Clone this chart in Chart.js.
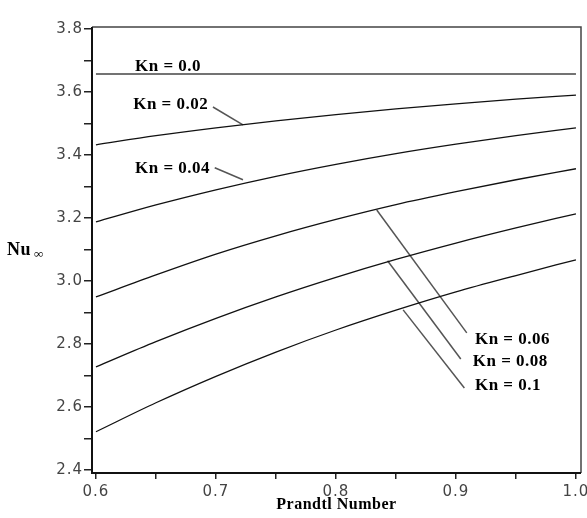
<!DOCTYPE html>
<html>
<head>
<meta charset="utf-8">
<script src="https://cdn.jsdelivr.net/npm/chart.js"></script>
<style>
    html, body { margin: 0; padding: 0; background: #fff; }
    #caixa { width: 587px; height: 518px; }
</style>
</head>
<body>
<div id="caixa"><canvas id="grafico"></canvas></div>
<script>
// eixo x: número de Prandtl
const prandtl = [0.6, 0.65, 0.7, 0.75, 0.8, 0.85, 0.9, 0.95, 1.0];

// Nu infinito para cada Kn
const nuKn000 = [3.657, 3.657, 3.657, 3.657, 3.657, 3.657, 3.657, 3.657, 3.657];
const nuKn002 = [3.432, 3.461, 3.486, 3.508, 3.528, 3.546, 3.562, 3.577, 3.590];
const nuKn004 = [3.187, 3.241, 3.289, 3.332, 3.370, 3.404, 3.434, 3.461, 3.486];
const nuKn006 = [2.949, 3.019, 3.085, 3.143, 3.195, 3.242, 3.283, 3.321, 3.356];
const nuKn008 = [2.727, 2.807, 2.881, 2.949, 3.011, 3.068, 3.120, 3.168, 3.213];
const nuKn010 = [2.521, 2.613, 2.697, 2.774, 2.844, 2.907, 2.965, 3.017, 3.067];

// ticks
const xTicks = [0.6, 0.65, 0.7, 0.75, 0.8, 0.85, 0.9, 0.95, 1.0];
const yTicks = [2.4, 2.5, 2.6, 2.7, 2.8, 2.9, 3.0, 3.1, 3.2, 3.3, 3.4, 3.5, 3.6, 3.7, 3.8];

// linhas de chamada dos rótulos [Pr, Nu]
const chamada002 = [[0.6975, 3.552], [0.7225, 3.495]];
const chamada004 = [[0.699, 3.359], [0.7225, 3.321]];
const chamada006 = [[0.834, 3.225], [0.909, 2.835]];
const chamada008 = [[0.843, 3.064], [0.904, 2.752]];
const chamada010 = [[0.856, 2.908], [0.907, 2.660]];

// rótulos (texto, posição em Pr e Nu)
const rotulos = ['Kn = 0.0', 'Kn = 0.02', 'Kn = 0.04', 'Kn = 0.06', 'Kn = 0.08', 'Kn = 0.1'];
const rotuloPr = [0.6325, 0.631, 0.6325, 0.9158, 0.914, 0.9158];
const rotuloNu = [3.681, 3.559, 3.356, 2.813, 2.743, 2.667];

function serie(valores) {
    return prandtl.map((p, i) => ({ x: p, y: valores[i] }));
}

function pares(lista) {
    return lista.map(p => ({ x: p[0], y: p[1] }));
}

function curva(valores) {
    return {
        data: serie(valores),
        borderColor: '#111',
        borderWidth: 1.3,
        pointRadius: 0,
        cubicInterpolationMode: 'monotone',
        fill: false
    };
}

function chamada(lista) {
    return {
        data: pares(lista),
        borderColor: '#555',
        borderWidth: 1.5,
        pointRadius: 0,
        tension: 0,
        fill: false
    };
}

const serifBold = '"Liberation Serif", "Times New Roman", serif';

// desenha moldura, títulos e rótulos
const extras = {
    id: 'extras',
    beforeDraw(chart) {
        // números dos eixos um pouco espaçados, como no original
        chart.ctx.letterSpacing = '1px';
    },
    beforeDatasetsDraw(chart) {
        const ctx = chart.ctx;
        const a = chart.chartArea;
        ctx.save();
        ctx.strokeStyle = '#444';
        ctx.lineWidth = 1.5;
        ctx.beginPath();
        ctx.moveTo(a.left, a.top);
        ctx.lineTo(a.right, a.top);
        ctx.lineTo(a.right, a.bottom);
        ctx.stroke();
        ctx.strokeStyle = '#111';
        ctx.lineWidth = 2;
        ctx.beginPath();
        ctx.moveTo(a.left, a.top);
        ctx.lineTo(a.left, a.bottom);
        ctx.lineTo(a.right, a.bottom);
        ctx.stroke();
        ctx.restore();
    },
    afterDraw(chart) {
        const ctx = chart.ctx;
        const a = chart.chartArea;
        const sx = chart.scales.x;
        const sy = chart.scales.y;
        ctx.save();
        ctx.fillStyle = '#000';
        ctx.textBaseline = 'middle';
        ctx.letterSpacing = '0.5px';

        ctx.font = 'bold 17px ' + serifBold;
        for (let i = 0; i < rotulos.length; i++) {
            ctx.textAlign = 'left';
            ctx.fillText(rotulos[i], sx.getPixelForValue(rotuloPr[i]), sy.getPixelForValue(rotuloNu[i]));
        }

        // título do eixo x
        ctx.textAlign = 'center';
        ctx.font = 'bold 16px ' + serifBold;
        ctx.fillText('Prandtl Number', (a.left + a.right) / 2, a.bottom + 32);

        // título do eixo y
        ctx.font = 'bold 18px ' + serifBold;
        ctx.textAlign = 'left';
        const yMeio = (a.top + a.bottom) / 2;
        ctx.fillText('Nu', 7, yMeio);
        const w = ctx.measureText('Nu').width;
        ctx.font = 'bold 13px ' + serifBold;
        ctx.letterSpacing = '0px';
        ctx.fillText('∞', 7 + w + 3, yMeio + 5);
        ctx.restore();
    }
};

const fonteTick = { family: '"DejaVu Sans", Verdana, sans-serif', size: 15 };

new Chart(document.getElementById('grafico'), {
    type: 'line',
    data: {
        datasets: [
            {
                data: serie(nuKn000),
                borderColor: '#444',
                borderWidth: 1.5,
                pointRadius: 0,
                fill: false
            },
            curva(nuKn002),
            curva(nuKn004),
            curva(nuKn006),
            curva(nuKn008),
            curva(nuKn010),
            chamada(chamada002),
            chamada(chamada004),
            chamada(chamada006),
            chamada(chamada008),
            chamada(chamada010)
        ]
    },
    options: {
        animation: false,
        responsive: true,
        maintainAspectRatio: false,
        layout: {
            padding: { top: 27, right: 6, left: 0, bottom: 0 }
        },
        plugins: {
            legend: { display: false },
            tooltip: { enabled: false }
        },
        scales: {
            x: {
                type: 'linear',
                min: 0.5967,
                max: 1.0042,
                afterBuildTicks: s => { s.ticks = xTicks.map(v => ({ value: v })); },
                afterFit: s => { s.height = 45; s.paddingLeft = 0; s.paddingRight = 0; },
                ticks: {
                    autoSkip: false,
                    maxRotation: 0,
                    padding: 4,
                    color: '#444',
                    font: fonteTick,
                    callback: v => (Math.round(v * 100) % 10 === 0 ? v.toFixed(1) : '')
                },
                grid: {
                    drawOnChartArea: false,
                    tickLength: 6,
                    color: '#222',
                    lineWidth: 1.5
                },
                border: { display: false }
            },
            y: {
                type: 'linear',
                min: 2.39,
                max: 3.806,
                afterBuildTicks: s => { s.ticks = yTicks.map(v => ({ value: v })); },
                afterFit: s => { s.width = 92; s.paddingTop = 0; s.paddingBottom = 0; },
                ticks: {
                    autoSkip: false,
                    padding: 1,
                    color: '#444',
                    font: fonteTick,
                    callback: v => (Math.round(v * 10) % 2 === 0 ? v.toFixed(1) : '')
                },
                grid: {
                    drawOnChartArea: false,
                    tickLength: 8,
                    color: '#222',
                    lineWidth: 1.5
                },
                border: { display: false }
            }
        }
    },
    plugins: [extras]
});
</script>
</body>
</html>
